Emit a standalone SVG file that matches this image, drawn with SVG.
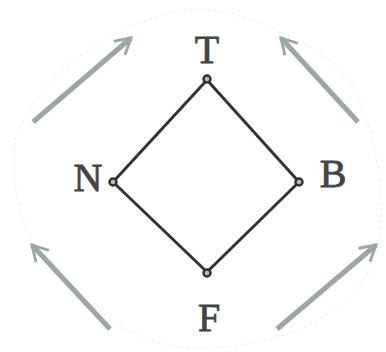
<svg xmlns="http://www.w3.org/2000/svg" width="386" height="352" viewBox="0 0 386 352">
<style>
.edge{stroke:#333;stroke-width:3;fill:none}
.dot{fill:#bbb;stroke:#333;stroke-width:2.5}
.lbl{font-family:"Liberation Serif",serif;font-size:40px;fill:#444;stroke:#444;stroke-width:0.8;text-anchor:middle}
.arr{stroke:#9ba89f;stroke-width:5;fill:none;stroke-linecap:butt}
</style>
<defs>
<marker id="ah" viewBox="0 0 10 10" refX="8" refY="5" markerWidth="4.4" markerHeight="4.4" orient="auto" markerUnits="strokeWidth">
<path d="M1,1 L8,5 L1,9" fill="none" stroke="#9ba89f" stroke-width="1.3"/>
</marker>
</defs>
<rect width="386" height="352" fill="#fff"/>
<path d="M15,140 C40,70 120,20 185,10 C240,5 300,40 330,60 C370,90 386,180 380,240 C370,300 300,350 190,348 C130,345 80,300 55,265 C25,240 10,200 15,140 Z" fill="none" stroke="#ececec" stroke-width="1" stroke-dasharray="3 3"/>
<g id="connectors">
<line class="edge" x1="207" y1="80" x2="113" y2="182"/>
<line class="edge" x1="207" y1="80" x2="299" y2="182"/>
<line class="edge" x1="113" y1="182" x2="207" y2="272"/>
<line class="edge" x1="299" y1="182" x2="207" y2="272"/>
</g>
<g id="arrows">
<line class="arr" x1="33" y1="122" x2="131" y2="38" marker-end="url(#ah)"/>
<line class="arr" x1="358" y1="122" x2="281" y2="38" marker-end="url(#ah)"/>
<line class="arr" x1="110" y1="329" x2="32" y2="245" marker-end="url(#ah)"/>
<line class="arr" x1="277" y1="329" x2="376" y2="245" marker-end="url(#ah)"/>
</g>
<g id="T"><circle class="dot" cx="207" cy="79" r="3.5"/><text class="lbl" x="207" y="63">T</text></g>
<g id="N"><circle class="dot" cx="113" cy="182" r="3.5"/><text class="lbl" x="88" y="191">N</text></g>
<g id="B"><circle class="dot" cx="299" cy="182" r="3.5"/><text class="lbl" x="333" y="187">B</text></g>
<g id="F"><circle class="dot" cx="207" cy="273" r="3.5"/><text class="lbl" x="209" y="331">F</text></g>
</svg>
